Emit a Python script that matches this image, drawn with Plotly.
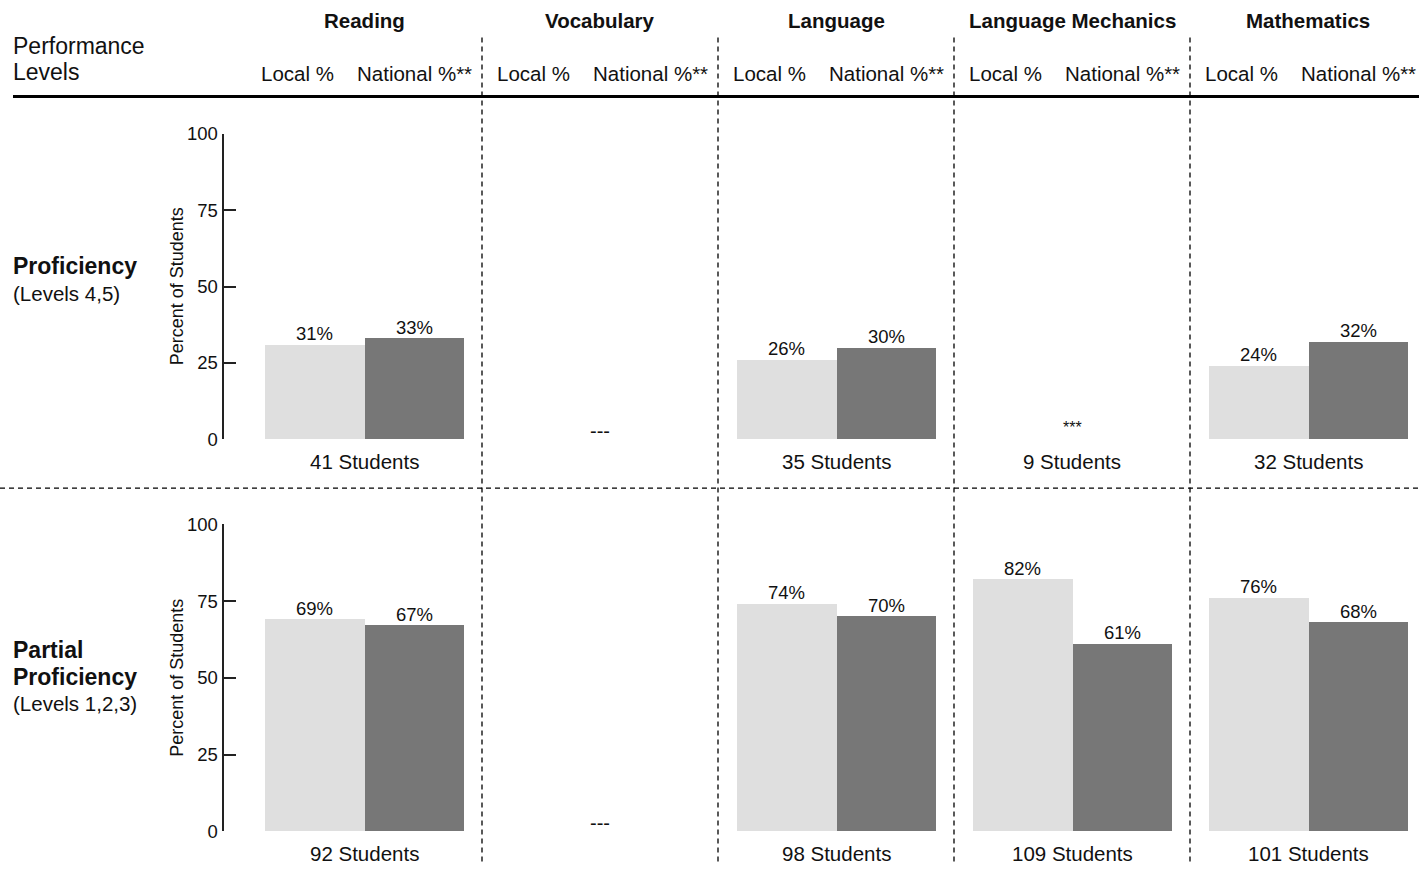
import plotly.graph_objects as go

# ---------------- data ----------------
subjects = ["Reading", "Vocabulary", "Language", "Language Mechanics", "Mathematics"]
prof_local = [31, None, 26, None, 24]
prof_national = [33, None, 30, None, 32]
partial_local = [69, None, 74, 82, 76]
partial_national = [67, None, 70, 61, 68]
prof_students = ["41 Students", "", "35 Students", "9 Students", "32 Students"]
partial_students = ["92 Students", "", "98 Students", "109 Students", "101 Students"]
prof_notes = ["", "---", "", "***", ""]
partial_notes = ["", "---", "", "", ""]
y_ticks = [0, 25, 50, 75, 100]

# ---------------- style ----------------
FONT = "Liberation Sans, Arial, sans-serif"
W, H = 1419, 874
V_OFF, V_SC = 10.46, 0.977   # observed vertical placement of the figure in the captured picture
LOCAL_C = "#dfdfdf"
NAT_C = "#777777"
BW = 0.4237  # bar width in column units


def py(t):
    """paper y for a target picture row t"""
    return 1 - ((t - V_OFF) / V_SC) / H


def sh(d):
    return d / V_SC


def px_x(px):
    return px / W


n = len(subjects)
xc = [i + 0.5 for i in range(n)]
x_loc = [c - BW / 2 for c in xc]
x_nat = [c + BW / 2 for c in xc]

fig = go.Figure()
rows = [
    ("x", "y", prof_local, prof_national),
    ("x2", "y2", partial_local, partial_national),
]
for xa, ya, loc, nat in rows:
    fig.add_trace(go.Bar(x=x_loc, y=loc, width=BW, marker=dict(color=LOCAL_C, line=dict(width=0)),
                         xaxis=xa, yaxis=ya, showlegend=False, hoverinfo="skip"))
    fig.add_trace(go.Bar(x=x_nat, y=nat, width=BW, marker=dict(color=NAT_C, line=dict(width=0)),
                         xaxis=xa, yaxis=ya, showlegend=False, hoverinfo="skip"))

x_left = (223.5 - 246) / 236
x_right = (1419 - 246) / 236
xdom = [223.5 / W, 1]
xcommon = dict(range=[x_left, x_right], domain=xdom, showgrid=False, zeroline=False,
               showline=False, showticklabels=False, ticks="", fixedrange=True)
ycommon = dict(range=[0, 100], tickvals=y_ticks, ticks="inside", ticklen=12, tickwidth=2,
               tickcolor="#222", showline=True, linewidth=2, linecolor="#222",
               showgrid=False, zeroline=False, fixedrange=True,
               tickfont=dict(size=18.5, color="#111", family=FONT))

fig.update_layout(
    width=W, height=H, autosize=False,
    margin=dict(l=0, r=0, t=0, b=0),
    paper_bgcolor="white", plot_bgcolor="rgba(0,0,0,0)",
    font=dict(family=FONT, color="#111"),
    barmode="overlay", bargap=0,
    xaxis=dict(anchor="y", **xcommon),
    xaxis2=dict(anchor="y2", matches="x", **xcommon),
    yaxis=dict(anchor="x", domain=[py(439), py(133.5)], **ycommon),
    yaxis2=dict(anchor="x2", domain=[py(831.7), py(524.3)], **ycommon),
)

ann = []
# column headings
for i, s in enumerate(subjects):
    ann.append(dict(x=xc[i], y=py(20), xref="x", yref="paper", text="<b>%s</b>" % s,
                    showarrow=False, xanchor="center", yanchor="middle",
                    font=dict(size=20.5, family=FONT, color="#111")))
    ann.append(dict(x=i + 0.3686 + 3 / 236, y=py(73), xref="x", yref="paper", text="Local %",
                    showarrow=False, xanchor="right", yanchor="middle",
                    font=dict(size=20.5, family=FONT, color="#111")))
    ann.append(dict(x=x_nat[i], y=py(73), xref="x", yref="paper", text="National %**",
                    showarrow=False, xanchor="center", yanchor="middle",
                    font=dict(size=20.5, family=FONT, color="#111")))

ann.append(dict(x=px_x(11), y=py(45), xref="paper", yref="paper", text="Performance",
                showarrow=False, xanchor="left", yanchor="middle",
                font=dict(size=23, family=FONT, color="#111")))
ann.append(dict(x=px_x(11), y=py(72), xref="paper", yref="paper", text="Levels",
                showarrow=False, xanchor="left", yanchor="middle",
                font=dict(size=23, family=FONT, color="#111")))

# row labels
row_labels = [
    [("<b>Proficiency</b>", 266, 23), ("(Levels 4,5)", 293, 20.5)],
    [("<b>Partial</b>", 650, 23), ("<b>Proficiency</b>", 677, 23), ("(Levels 1,2,3)", 704, 20.5)],
]
for lines in row_labels:
    for t, yy, fs in lines:
        ann.append(dict(x=px_x(11), y=py(yy), xref="paper", yref="paper", text=t,
                        showarrow=False, xanchor="left", yanchor="middle",
                        font=dict(size=fs, family=FONT, color="#111")))

# axis titles
for yy in (286, 678):
    ann.append(dict(x=px_x(177), y=py(yy), xref="paper", yref="paper", text="Percent of Students",
                    showarrow=False, textangle=-90, xanchor="center", yanchor="middle",
                    font=dict(size=18, family=FONT, color="#111")))

# value labels, student counts and notes
for xa, ya, loc, nat, studs, notes in (("x", "y", prof_local, prof_national, prof_students, prof_notes),
                                       ("x2", "y2", partial_local, partial_national, partial_students, partial_notes)):
    for i in range(n):
        for xv, v in ((x_loc[i], loc[i]), (x_nat[i], nat[i])):
            if v is not None:
                ann.append(dict(x=xv, y=v, xref=xa, yref=ya, text="%d%%" % v, showarrow=False,
                                xanchor="center", yanchor="middle", yshift=sh(11),
                                font=dict(size=18.5, family=FONT, color="#111")))
        if studs[i]:
            ann.append(dict(x=xc[i], y=0, xref=xa, yref=ya, text=studs[i], showarrow=False,
                            xanchor="center", yanchor="middle", yshift=-sh(22),
                            font=dict(size=20.5, family=FONT, color="#111")))
        if notes[i] == "---":
            ann.append(dict(x=xc[i], y=0, xref=xa, yref=ya, text="---", showarrow=False,
                            xanchor="center", yanchor="middle", yshift=sh(8),
                            font=dict(size=20, family=FONT, color="#111")))
        elif notes[i] == "***":
            ann.append(dict(x=xc[i], y=0, xref=xa, yref=ya, text="***", showarrow=False,
                            xanchor="center", yanchor="middle", yshift=sh(11),
                            font=dict(size=16, family=FONT, color="#111")))

shapes = []
shapes.append(dict(type="line", xref="paper", yref="paper", x0=px_x(13), x1=1, y0=py(96), y1=py(96),
                   line=dict(color="#000", width=3)))
shapes.append(dict(type="line", xref="paper", yref="paper", x0=0, x1=1, y0=py(488), y1=py(488),
                   line=dict(color="#000", width=1.3, dash="5px,4px")))
for k in range(1, n):
    shapes.append(dict(type="line", xref="x", yref="paper", x0=k, x1=k, y0=py(37), y1=0,
                       line=dict(color="#000", width=1.3, dash="5px,4px")))

fig.update_layout(annotations=ann, shapes=shapes)
fig.write_html("out.html")
